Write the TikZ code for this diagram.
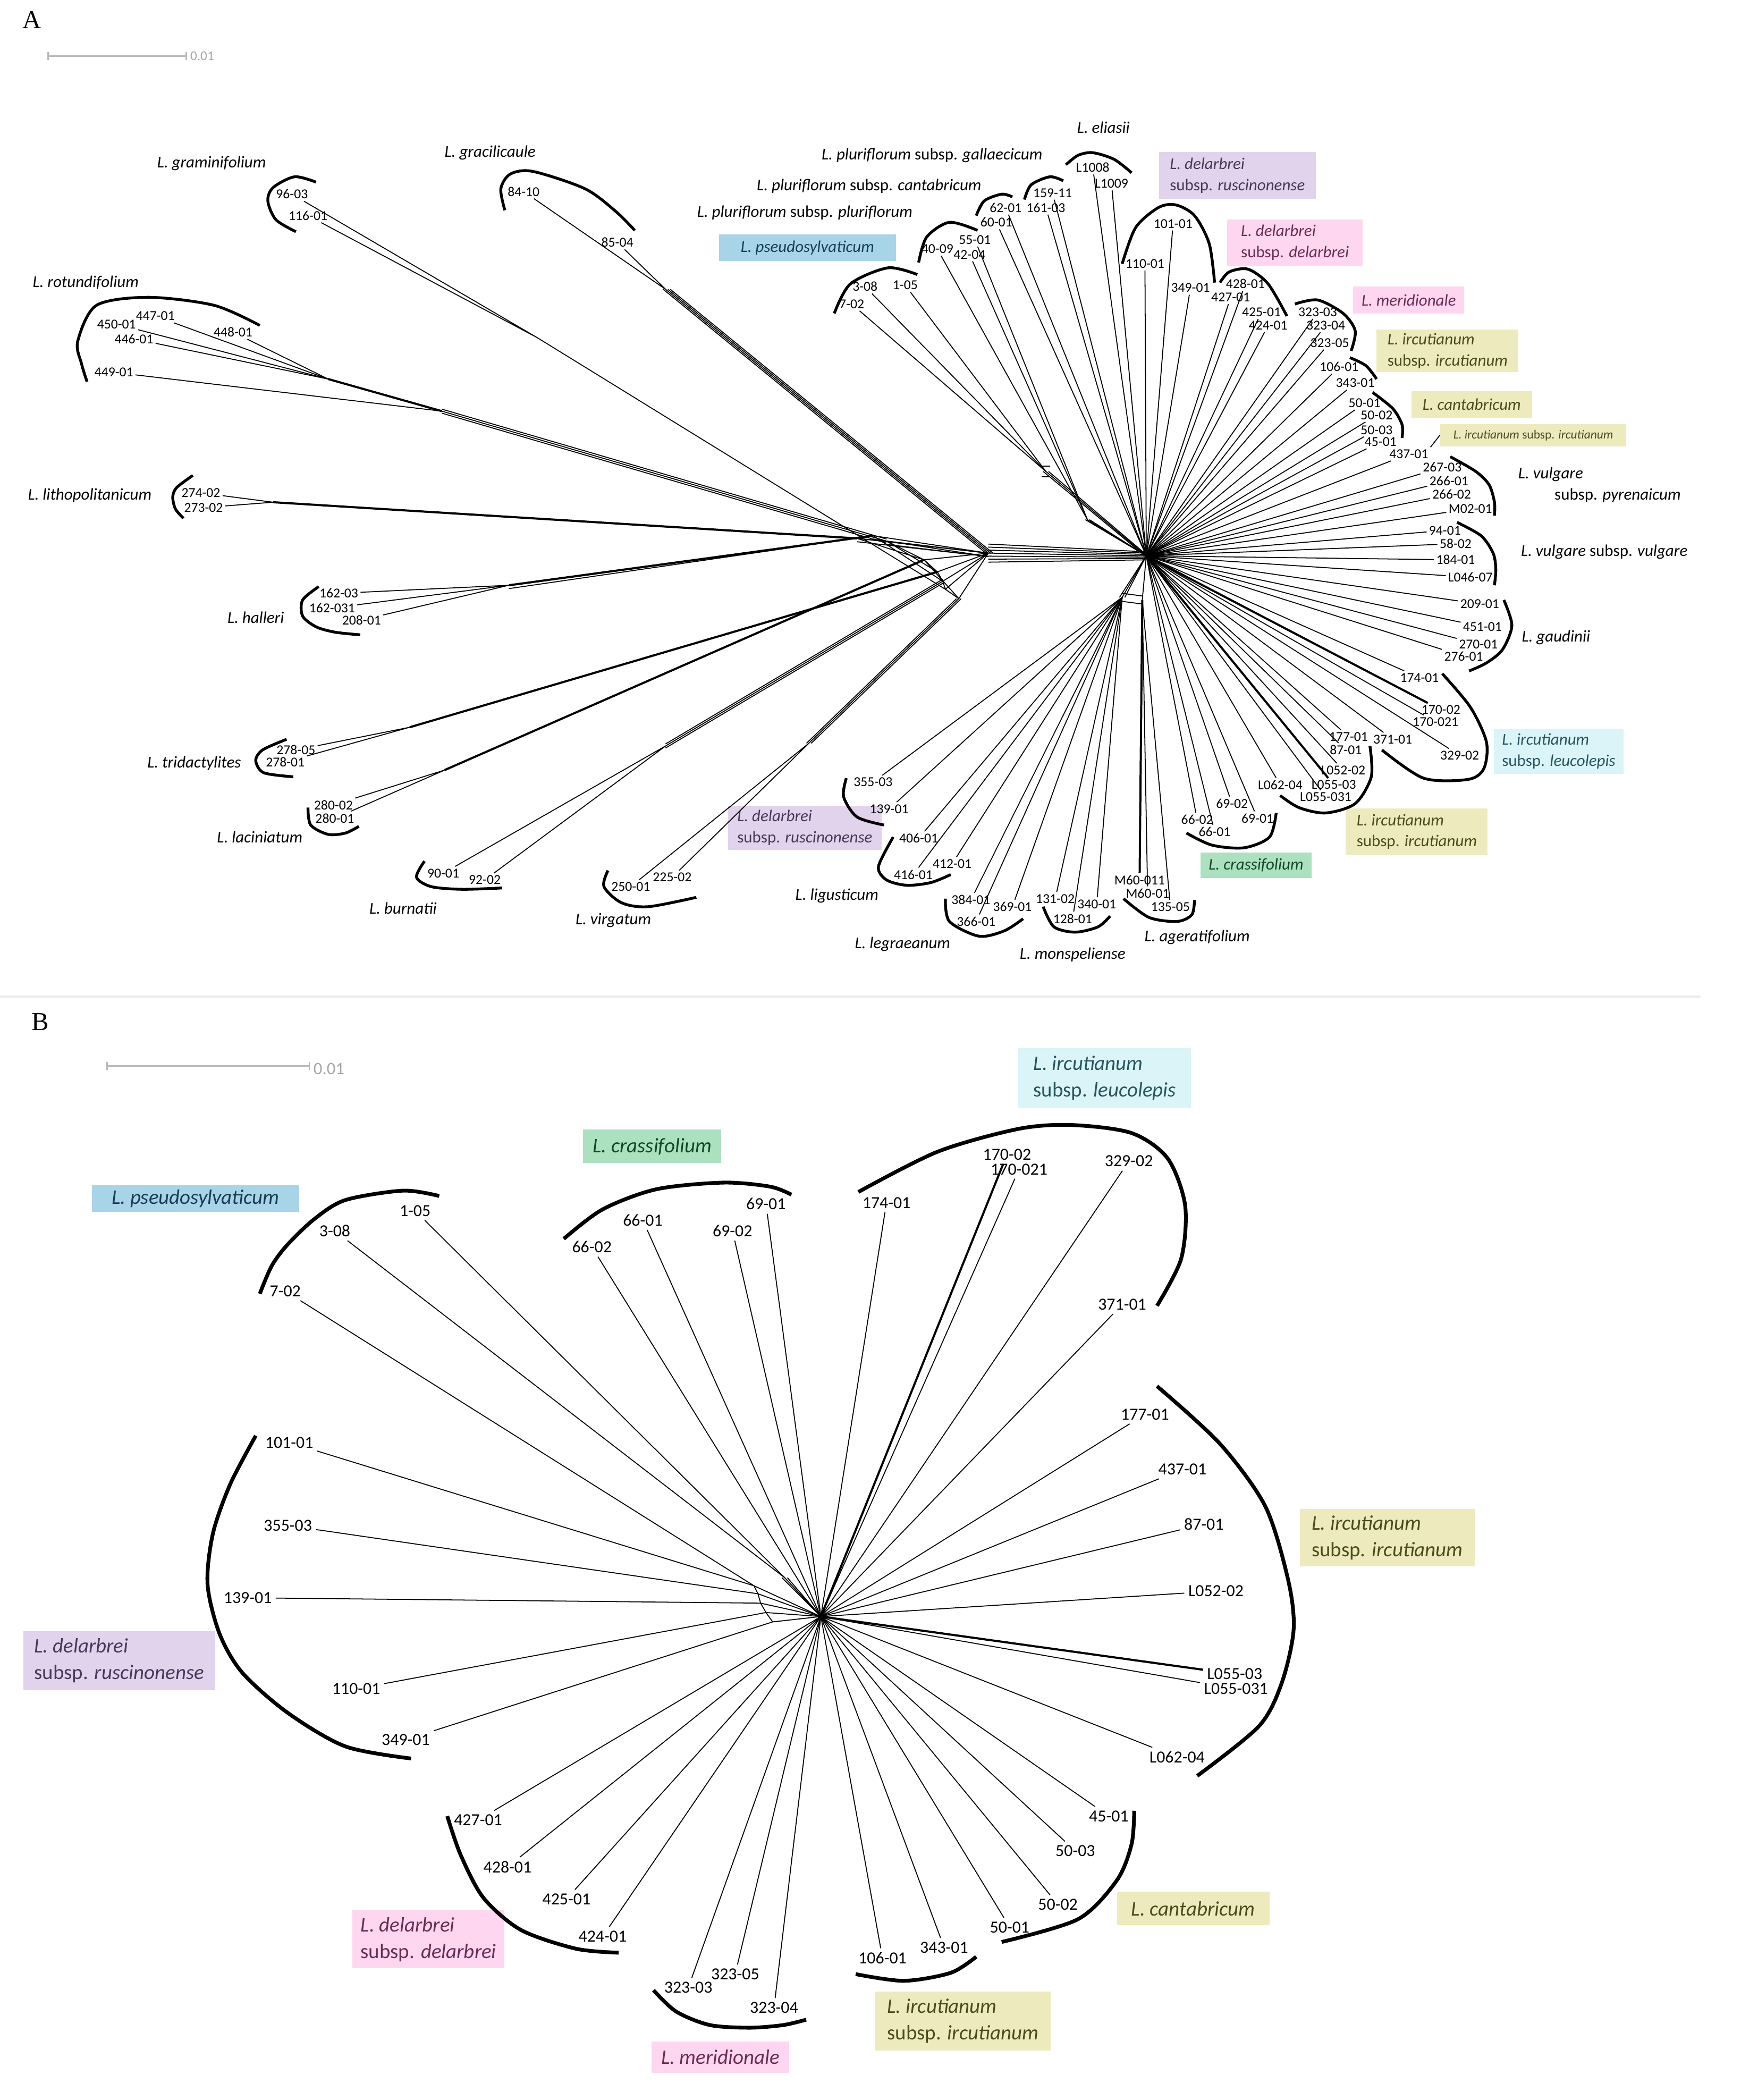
\documentclass[tikz,border=0pt]{standalone}
\usepackage{fontspec}
\setmainfont{Carlito}
\newfontfamily\lettfont{Liberation Serif}
\definecolor{fBlue}{RGB}{168,212,231}
\definecolor{tBlue}{RGB}{25,60,85}
\definecolor{fLav}{RGB}{226,211,236}
\definecolor{tLav}{RGB}{75,55,90}
\definecolor{fPink}{RGB}{255,214,239}
\definecolor{tPink}{RGB}{105,45,85}
\definecolor{fKhaki}{RGB}{237,235,190}
\definecolor{tKhaki}{RGB}{75,75,30}
\definecolor{fCyan}{RGB}{218,244,247}
\definecolor{tCyan}{RGB}{40,85,95}
\definecolor{fGreen}{RGB}{172,225,192}
\definecolor{tGreen}{RGB}{20,70,40}
\begin{document}
\begin{tikzpicture}[x=0.02cm,y=-0.02cm,
    smpA/.style={font=\fontsize{5.8}{6}\selectfont,inner sep=0.8pt},
    smpB/.style={font=\fontsize{7.2}{8}\selectfont,inner sep=1.5pt},
    spA/.style={font=\fontsize{7}{9}\selectfont,inner sep=0pt},
    spB/.style={font=\fontsize{8.8}{11.3}\selectfont,inner sep=0pt},
    grpA/.style={spA,align=left},
    grpB/.style={spB,align=left},
    edge/.style={line width=0.4pt},
    thk/.style={line width=0.9pt},
    arcA/.style={line width=1.2pt},
    arcB/.style={line width=1.6pt},
    bar/.style={gray!55,line width=0.6pt}]
\useasboundingbox (0,0) rectangle (1300,1568);

% ---------------- A
\node[font=\lettfont\fontsize{11}{12}\selectfont] (pA) at (24,15) {A};
\draw[bar] (36,39) -- (36,45) (36,42) -- (139,42) (139,39) -- (139,45);
\node[font=\fontsize{5.7}{6}\selectfont,text=gray!70,anchor=west,inner sep=1pt] (sclA) at (140,42) {0.01};
\draw[gray!15,line width=0.8pt] (0,744) -- (1270,744);

\node[grpA,fill=fBlue,text=tBlue,minimum width=2.64cm,minimum height=0.4cm] (bPsA) at (603,185) {\textit{L. pseudosylvaticum}};
\node[grpA,fill=fLav,text=tLav,minimum width=2.34cm,minimum height=0.7cm] (bRuA) at (924,131) {\textit{L. delarbrei}\\subsp. \textit{ruscinonense}};
\node[grpA,fill=fPink,text=tPink,minimum width=2.02cm,minimum height=0.69cm] (bDeA) at (967,181) {\textit{L. delarbrei}\\subsp. \textit{delarbrei}};
\node[grpA,fill=fPink,text=tPink,minimum width=1.66cm,minimum height=0.41cm] (bMeA) at (1052,224) {\textit{L. meridionale}};
\node[grpA,fill=fKhaki,text=tKhaki,minimum width=2.12cm,minimum height=0.64cm] (bIrA) at (1081,262) {\textit{L. ircutianum}\\subsp. \textit{ircutianum}};
\node[grpA,fill=fKhaki,text=tKhaki,minimum width=1.8cm,minimum height=0.4cm] (bCaA) at (1099,302) {\textit{L. cantabricum}};
\node[grpA,fill=fKhaki,text=tKhaki,minimum width=2.78cm,minimum height=0.34cm,font=\fontsize{5.3}{6}\selectfont] (bIsA) at (1145,325) {\textit{L. ircutianum} subsp. \textit{ircutianum}};
\node[grpA,fill=fCyan,text=tCyan,minimum width=1.94cm,minimum height=0.68cm] (bLeA) at (1164,561) {\textit{L. ircutianum}\\subsp. \textit{leucolepis}};
\node[grpA,fill=fKhaki,text=tKhaki,minimum width=2.12cm,minimum height=0.7cm] (bIlA) at (1058,621) {\textit{L. ircutianum}\\subsp. \textit{ircutianum}};
\node[grpA,fill=fGreen,text=tGreen,minimum width=1.66cm,minimum height=0.38cm] (bCrA) at (938,646) {\textit{L. crassifolium}};
\node[grpA,fill=fLav,text=tLav,minimum width=2.3cm,minimum height=0.66cm] (bRlA) at (601,618) {\textit{L. delarbrei}\\subsp. \textit{ruscinonense}};

\foreach \n/\x/\y in {96-03/218/145,116-01/230/161,84-10/391/143,85-04/461/181,
    447-01/116/236,450-01/87/242,446-01/100/253,448-01/174/248,449-01/85/278,
    274-02/150/368,273-02/152/379,162-03/253/443,162-031/248/454,208-01/270/463,
    278-05/221/560,278-01/213/569,280-02/249/601,280-01/250/611,90-01/331/652,92-02/362/657,
    250-01/471/662,225-02/502/655,355-03/652/584,139-01/664/604,
    406-01/686/626,412-01/711/645,416-01/682/653,384-01/725/672,369-01/756/677,366-01/729/688,
    131-02/788/671,340-01/819/675,128-01/801/686,M60-011/851/657,M60-01/857/667,135-05/874/677,
    7-02/636/227,3-08/646/214,1-05/676/213,40-09/700/186,42-04/724/190,55-01/728/179,
    60-01/744/166,62-01/751/155,159-11/786/144,161-03/781/155,L1008/816/125,L1009/830/137,
    101-01/876/167,110-01/855/197,349-01/889/215,428-01/930/212,427-01/919/222,425-01/942/233,
    424-01/947/243,323-03/984/233,323-04/990/243,323-05/993/256,106-01/1000/274,343-01/1012/286,
    50-01/1019/301,50-02/1028/310,50-03/1028/321,45-01/1031/330,437-01/1052/339,
    267-03/1077/349,266-01/1082/359,266-02/1084/369,M02-01/1098/380,
    94-01/1079/396,58-02/1087/406,184-01/1087/418,L046-07/1098/431,
    209-01/1105/451,451-01/1107/468,270-01/1104/481,276-01/1093/490,
    174-01/1060/506,170-02/1076/530,170-021/1072/539,371-01/1040/552,329-02/1090/564,
    177-01/1007/550,87-01/1005/560,L052-02/1003/575,L055-03/996/586,L055-031/990/595,L062-04/956/586,
    69-02/920/600,69-01/939/611,66-02/894/612,66-01/907/621}
  \node[smpA] (a\n) at (\x,\y) {\n};

\coordinate (hL) at (738,413);
\coordinate (hR) at (856,415);
\coordinate (hD) at (838,446);
\coordinate (hD2) at (853,448);
\coordinate (jPs) at (781,352);
\coordinate (jPl) at (812,388);
\coordinate (jGr) at (401,252);  \coordinate (eGr) at (706,440);
\coordinate (jGc) at (497,216);
\coordinate (jRo) at (245,283);  \coordinate (jRo2) at (330,307); \coordinate (eRo) at (662,404);
\coordinate (jLi) at (204,375);  \coordinate (eLi) at (640,402);
\coordinate (jHa) at (380,437);  \coordinate (eHa) at (652,400);
\coordinate (jTr) at (306,543);  \coordinate (eTr) at (700,427);
\coordinate (jLa) at (332,575);  \coordinate (eLa) at (690,418);
\coordinate (jBu) at (497,557);  \coordinate (eBu) at (704,434);
\coordinate (jVi) at (604,555);  \coordinate (eVi) at (716,447);

\foreach \o in {-3,-2,-1,0,1,2,3} \draw[edge] ([yshift=\o*0.45mm]hL) -- ([yshift=\o*0.2mm]hR);
\foreach \e in {eGr,eRo,eLi,eHa,eTr,eLa,eBu,eVi} \draw[edge] (\e) -- (hL);
\foreach \e in {eRo,eLi,eHa} \draw[edge] ([yshift=-0.5mm]\e) -- ([yshift=-0.5mm]hL);
\draw[edge] (eHa) -- (eLi) -- (eRo) -- (eLa) -- (eTr) -- (eBu) -- (eGr) -- (eVi);
\draw[edge] (eRo) -- (eTr) (eLi) -- (eLa) (eHa) -- (eBu) (eLa) -- (eVi);

\draw[edge] (a96-03) -- (jGr) -- (eGr) (a116-01) -- (jGr);
\draw[edge] (a84-10) -- (jGc) (a85-04) -- (jGc);
\foreach \o in {-1,0,1,2} \draw[edge] ([xshift=\o*0.35mm]jGc) -- ([xshift=\o*0.35mm]hL);
\foreach \n in {450-01,446-01,447-01,448-01} \draw[edge] (a\n) -- (jRo);
\draw[edge] (a449-01) -- (jRo2);
\draw[thk] (jRo) -- (jRo2);
\foreach \o in {-1,0,1} \draw[edge] ([yshift=\o*0.3mm]jRo2) -- ([yshift=\o*0.3mm]eRo);
\draw[edge] (a274-02) -- (jLi) (a273-02) -- (jLi);
\draw[thk] (jLi) -- (eLi);
\draw[edge] (a162-03) -- (jHa) (a162-031) -- (jHa) (a208-01) -- (jHa);
\draw[thk] (jHa) -- (eHa);
\draw[edge] ([yshift=-0.5mm]jHa) -- (eHa);
\draw[edge] (a278-05) -- (jTr) (a278-01) -- (jTr);
\draw[thk] (jTr) -- (eTr);
\draw[edge] (a280-02) -- (jLa) (a280-01) -- (jLa);
\draw[thk] (jLa) -- (eLa);
\draw[edge] (a90-01) -- (jBu) (a92-02) -- (jBu);
\foreach \o in {-1,0,1} \draw[edge] ([yshift=\o*0.3mm]jBu) -- ([yshift=\o*0.3mm]eBu);
\draw[edge] (a250-01) -- (jVi) (a225-02) -- (jVi);
\foreach \o in {-1,0,1} \draw[edge] ([xshift=\o*0.35mm]jVi) -- ([xshift=\o*0.35mm]eVi);

\foreach \n in {7-02,3-08,1-05} \draw[edge] (a\n) -- (jPs);
\foreach \o in {-1,0,1} \draw[edge] ([xshift=\o*0.4mm]jPs) -- ([xshift=\o*0.2mm]hR);
\draw[edge] ([xshift=-0.6mm,yshift=0.8mm]jPs) -- ([xshift=0.6mm,yshift=0.8mm]jPs)
            ([xshift=-0.6mm,yshift=-0.8mm]jPs) -- ([xshift=0.6mm,yshift=-0.8mm]jPs);
\foreach \n in {40-09,42-04,55-01} \draw[edge] (a\n) -- (jPl);
\foreach \o in {-1,0,1} \draw[edge] ([xshift=\o*0.3mm]jPl) -- (hR);
\foreach \n in {60-01,62-01,159-11,161-03,L1008,L1009,101-01,110-01,349-01,428-01,427-01,
    425-01,424-01,323-03,323-04,323-05,106-01,343-01,50-01,50-02,50-03,45-01,437-01,
    267-03,266-01,266-02,M02-01,94-01,58-02,184-01,L046-07,209-01,451-01,270-01,276-01,
    174-01,170-021,371-01,329-02,177-01,87-01,L052-02,L055-031,L062-04,69-02,69-01,66-02,66-01}
  \draw[edge] (hR) -- (a\n);
\draw[thk] (hR) -- (a170-02);
\draw[thk] (hR) -- (aL055-03);
\foreach \n in {355-03,139-01,406-01,412-01,416-01,384-01,369-01,366-01,131-02,340-01,128-01}
  \draw[edge] (hD) -- (a\n);
\draw[thk] (hD2) -- (aM60-011);
\draw[edge] (hD2) -- (aM60-01) (hD2) -- (a135-05) (hD2) -- (hR);
\foreach \o in {-1,0,1} \draw[edge] ([xshift=\o*0.4mm]hD) -- (hR);
\draw[edge] ([yshift=-0.6mm]hD) -- ([yshift=-0.6mm]hD2) ([yshift=0.6mm]hD) -- ([yshift=0.6mm]hD2);
\draw[edge] (a437-01.north east) -- (bIsA.west);

\draw[arcA] plot[smooth] coordinates {(236,136) (220,132) (204,140) (200,150) (206,164) (221,173)};
\draw[arcA] plot[smooth] coordinates {(377,157) (374,141) (381,130) (398,128) (437,141) (460,158) (474,172)};
\draw[arcA] plot[smooth] coordinates {(194,243) (160,228) (111,222) (72,228) (58,255) (61,272) (65,285)};
\draw[arcA] plot[smooth] coordinates {(144,355) (132,364) (129,371) (131,380) (137,387)};
\draw[arcA] plot[smooth] coordinates {(238,438) (226,448) (226,460) (236,468) (250,472) (269,474)};
\draw[arcA] plot[smooth] coordinates {(214,552) (196,560) (191,568) (197,577) (219,580)};
\draw[arcA] plot[smooth] coordinates {(230,603) (232,616) (245,623) (258,622) (268,617)};
\draw[arcA] plot[smooth] coordinates {(317,643) (311,655) (322,662) (345,664) (375,663)};
\draw[arcA] plot[smooth] coordinates {(454,650) (451,662) (464,674) (484,677) (520,670)};
\draw[arcA] plot[smooth] coordinates {(632,581) (630,595) (640,610) (660,616)};
\draw[arcA] plot[smooth] coordinates {(667,625) (656,647) (662,657) (677,661) (695,659) (710,653)};
\draw[arcA] plot[smooth] coordinates {(706,671) (709,688) (731,699) (750,695) (764,686)};
\draw[arcA] plot[smooth] coordinates {(779,677) (787,692) (803,696) (820,692) (829,684)};
\draw[arcA] plot[smooth] coordinates {(839,671) (858,685) (879,688) (890,683) (892,672)};
\draw[arcA] plot[smooth] coordinates {(886,622) (905,631) (929,633) (948,625) (953,607)};
\draw[arcA] plot[smooth] coordinates {(1023,557) (1024,580) (1012,600) (990,607) (970,603) (956,594)};
\draw[arcA] plot[smooth] coordinates {(1077,503) (1098,528) (1110,554) (1108,574) (1096,582) (1063,581) (1032,560)};
\draw[arcA] plot[smooth] coordinates {(1123,448) (1129,467) (1122,485) (1110,495) (1097,501)};
\draw[arcA] plot[smooth] coordinates {(1088,390) (1106,400) (1115,413) (1117,425) (1116,437)};
\draw[arcA] plot[smooth] coordinates {(1083,341) (1102,352) (1112,362) (1116,375) (1116,385)};
\draw[arcA] plot[smooth] coordinates {(1025,293) (1040,305) (1047,317) (1047,327)};
\draw[arcA] plot[smooth] coordinates {(1008,267) (1020,273) (1028,283)};
\draw[arcA] plot[smooth] coordinates {(967,227) (984,224) (1003,234) (1012,247) (1009,262)};
\draw[arcA] plot[smooth] coordinates {(911,211) (918,203) (932,201) (947,212) (961,236)};
\draw[arcA] plot[smooth] coordinates {(838,197) (848,170) (865,155) (878,153) (892,161) (903,182) (907,211)};
\draw[arcA] plot[smooth] coordinates {(623,234) (635,212) (663,200) (685,205)};
\draw[arcA] plot[smooth] coordinates {(686,196) (692,177) (709,166) (730,172)};
\draw[arcA] plot[smooth] coordinates {(729,161) (735,150) (748,145) (756,147)};
\draw[arcA] plot[smooth] coordinates {(765,149) (770,138) (784,132) (794,135)};
\draw[arcA] plot[smooth] coordinates {(796,123) (805,116) (816,114) (832,119) (845,129)};

\node[spA] (sGra) at (158,122) {\textit{L. graminifolium}};
\node[spA] (sGrc) at (366,114) {\textit{L. gracilicaule}};
\node[spA] (sRot) at (64,211) {\textit{L. rotundifolium}};
\node[spA] (sLit) at (67,370) {\textit{L. lithopolitanicum}};
\node[spA] (sHal) at (191,461) {\textit{L. halleri}};
\node[spA] (sTri) at (145,570) {\textit{L. tridactylites}};
\node[spA] (sLac) at (194,625) {\textit{L. laciniatum}};
\node[spA] (sBur) at (301,678) {\textit{L. burnatii}};
\node[spA] (sVir) at (458,687) {\textit{L. virgatum}};
\node[spA] (sLig) at (625,669) {\textit{L. ligusticum}};
\node[spA] (sLeg) at (674,705) {\textit{L. legraeanum}};
\node[spA] (sMon) at (801,713) {\textit{L. monspeliense}};
\node[spA] (sAge) at (894,700) {\textit{L. ageratifolium}};
\node[spA] (sEli) at (824,95) {\textit{L. eliasii}};
\node[spA] (sGal) at (696,116) {\textit{L. pluriflorum} subsp. \textit{gallaecicum}};
\node[spA] (sPca) at (649,139) {\textit{L. pluriflorum} subsp. \textit{cantabricum}};
\node[spA] (sPpl) at (601,159) {\textit{L. pluriflorum} subsp. \textit{pluriflorum}};
\node[spA] (sVu1) at (1158,354) {\textit{L. vulgare}};
\node[spA] (sVu2) at (1208,370) {subsp. \textit{pyrenaicum}};
\node[spA] (sVuv) at (1198,412) {\textit{L. vulgare} subsp. \textit{vulgare}};
\node[spA] (sGau) at (1162,476) {\textit{L. gaudinii}};

% ---------------- B
\node[font=\lettfont\fontsize{11}{12}\selectfont] (pB) at (30,763) {B};
\draw[bar] (80,793) -- (80,799) (80,796) -- (231,796) (231,793) -- (231,799);
\node[font=\fontsize{7.4}{8}\selectfont,text=gray!70,anchor=west,inner sep=1pt] (sclB) at (232,798) {0.01};

\node[grpB,fill=fBlue,text=tBlue,minimum width=3.1cm,minimum height=0.4cm] (bPsB) at (146,895) {\textit{L. pseudosylvaticum}};
\node[grpB,fill=fGreen,text=tGreen,minimum width=2.06cm,minimum height=0.5cm] (bCrB) at (487,856) {\textit{L. crassifolium}};
\node[grpB,fill=fCyan,text=tCyan,minimum width=2.58cm,minimum height=0.89cm] (bLeB) at (825,805) {\textit{L. ircutianum}\\subsp. \textit{leucolepis}};
\node[grpB,fill=fKhaki,text=tKhaki,minimum width=2.62cm,minimum height=0.86cm] (bIuB) at (1036,1148) {\textit{L. ircutianum}\\subsp. \textit{ircutianum}};
\node[grpB,fill=fLav,text=tLav,minimum width=2.87cm,minimum height=0.88cm] (bRuB) at (89,1240) {\textit{L. delarbrei}\\subsp. \textit{ruscinonense}};
\node[grpB,fill=fPink,text=tPink,minimum width=2.27cm,minimum height=0.87cm] (bDeB) at (320,1448) {\textit{L. delarbrei}\\subsp. \textit{delarbrei}};
\node[grpB,fill=fPink,text=tPink,minimum width=2.06cm,minimum height=0.47cm] (bMeB) at (538,1536) {\textit{L. meridionale}};
\node[grpB,fill=fKhaki,text=tKhaki,minimum width=2.62cm,minimum height=0.88cm] (bIlB) at (719,1509) {\textit{L. ircutianum}\\subsp. \textit{ircutianum}};
\node[grpB,fill=fKhaki,text=tKhaki,minimum width=2.28cm,minimum height=0.5cm] (bCaB) at (891,1425) {\textit{L. cantabricum}};

\foreach \n/\x/\y in {7-02/213/964,3-08/250/919,1-05/310/904,
    66-02/442/931,66-01/480/911,69-02/547/919,69-01/572/899,
    174-01/662/898,170-02/752/862,170-021/761/873,329-02/843/867,371-01/838/974,
    177-01/855/1056,437-01/883/1097,87-01/899/1138,L052-02/908/1188,
    L055-03/922/1250,L055-031/923/1261,L062-04/879/1312,
    45-01/828/1356,50-03/803/1382,50-02/790/1422,50-01/754/1439,
    343-01/705/1454,106-01/659/1462,323-04/578/1499,323-05/549/1474,323-03/514/1484,
    424-01/450/1446,425-01/423/1418,428-01/379/1394,427-01/357/1359,
    349-01/303/1299,110-01/266/1261,139-01/185/1193,355-03/215/1139,101-01/216/1077}
  \node[smpB] (b\n) at (\x,\y) {\n};

\coordinate (hB) at (613,1207);
\coordinate (kU) at (586,1178);
\coordinate (k1) at (563,1184);
\coordinate (k2) at (566,1190);
\coordinate (k3) at (568,1197);
\coordinate (k4) at (572,1204);
\coordinate (k5) at (577,1211);

\draw[edge] (k1) -- (k2) -- (k3) -- (k4) -- (k5);
\foreach \k in {k1,k2,k3,k4,k5} \draw[edge] (\k) -- (hB);
\draw[edge] (b101-01) -- (k1) (b355-03) -- (k2) (b139-01) -- (k3) (b110-01) -- (k4) (b349-01) -- (k5);
\draw[edge] (b7-02) -- (k1);
\foreach \n in {3-08,1-05} \draw[edge] (b\n) -- (kU);
\foreach \o in {-1,0,1} \draw[edge] ([xshift=\o*0.4mm]kU) -- (hB);
\foreach \n in {66-02,66-01,69-02,69-01,174-01,329-02,371-01,177-01,437-01,87-01,L052-02,
    L055-031,L062-04,45-01,50-03,50-02,50-01,343-01,106-01,323-04,323-05,323-03,
    424-01,425-01,428-01,427-01}
  \draw[edge] (hB) -- (b\n);
\draw[thk] (hB) -- (b170-02);
\draw[edge] (hB) -- (b170-021);
\draw[thk] (hB) -- (bL055-03);

\draw[arcB] plot[smooth] coordinates {(194,966) (203,945) (215,929) (235,910) (258,896) (301,889) (328,893)};
\draw[arcB] plot[smooth] coordinates {(421,925) (450,903) (490,888) (540,883) (575,886) (591,892)};
\draw[arcB] plot[smooth] coordinates {(641,890) (700,860) (760,843) (800,840) (845,846) (872,865) (885,900) (882,940) (864,975)};
\draw[arcB] plot[smooth] coordinates {(864,1035) (911,1078) (945,1125) (962,1180) (966,1217) (957,1257) (940,1289) (894,1326)};
\draw[arcB] plot[smooth] coordinates {(847,1352) (845,1377) (834,1404) (805,1433) (748,1450)};
\draw[arcB] plot[smooth] coordinates {(729,1461) (710,1473) (675,1479) (639,1474)};
\draw[arcB] plot[smooth] coordinates {(488,1486) (505,1502) (530,1512) (560,1514) (585,1512) (602,1508)};
\draw[arcB] plot[smooth] coordinates {(334,1356) (344,1385) (361,1417) (389,1441) (430,1455) (462,1458)};
\draw[arcB] plot[smooth] coordinates {(191,1072) (172,1108) (159,1145) (155,1183) (164,1220) (181,1249) (215,1279) (258,1304) (307,1313)};
\end{tikzpicture}
\end{document}
